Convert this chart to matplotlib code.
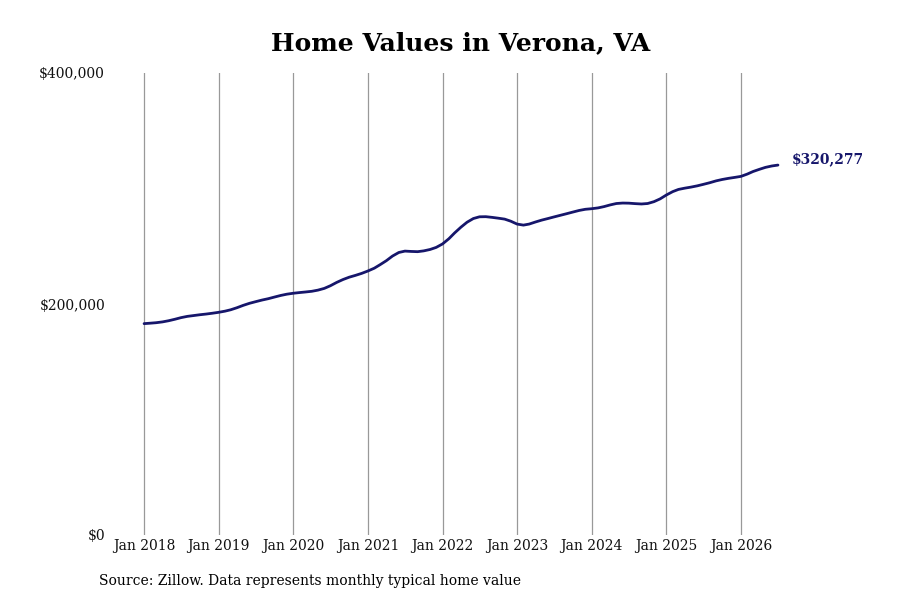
import pandas as pd
import matplotlib
matplotlib.use('Agg')
import matplotlib.pyplot as plt
from matplotlib.ticker import FuncFormatter

# Typical home value, Verona VA, monthly Jan 2018 - Jul 2026 (thousands of $)
values_2018 = [183.0, 183.4, 183.8, 184.5, 185.5, 186.8, 188.2, 189.3, 190.0, 190.7, 191.3, 192.0]
values_2019 = [192.8, 193.8, 195.0, 196.8, 198.8, 200.6, 202.0, 203.4, 204.6, 206.0, 207.4, 208.5]
values_2020 = [209.3, 209.9, 210.4, 211.0, 212.0, 213.5, 215.8, 218.7, 221.2, 223.2, 224.8, 226.5]
values_2021 = [228.6, 231.0, 234.0, 237.5, 241.5, 244.6, 245.8, 245.5, 245.3, 246.0, 247.2, 249.0]
values_2022 = [252.0, 256.5, 261.5, 266.5, 270.8, 274.0, 275.5, 275.6, 275.0, 274.3, 273.5, 271.7]
values_2023 = [269.2, 268.3, 269.2, 271.0, 272.6, 274.0, 275.4, 276.8, 278.2, 279.6, 281.0, 282.0]
values_2024 = [282.5, 283.2, 284.3, 285.8, 287.0, 287.4, 287.3, 286.9, 286.6, 287.0, 288.6, 291.0]
values_2025 = [294.4, 297.3, 299.2, 300.3, 301.2, 302.3, 303.6, 305.0, 306.6, 307.8, 308.8, 309.6]
values_2026 = [310.5, 312.5, 314.7, 316.6, 318.3, 319.5, 320.277]

values = (values_2018 + values_2019 + values_2020 + values_2021 + values_2022
          + values_2023 + values_2024 + values_2025 + values_2026)
dates = pd.date_range('2018-01-01', periods=len(values), freq='MS')
home_value = [v * 1000 for v in values]

tick_years = list(range(2018, 2027))
tick_labels = ['Jan %d' % y for y in tick_years]
last_label = '$320,277'

plt.rcParams['font.family'] = 'DejaVu Serif'

fig = plt.figure(figsize=(9, 6), dpi=100)
ax = fig.add_axes([112 / 900, 65 / 600, 668 / 900, 462 / 600])

line_color = '#16166b'
ax.plot(dates, home_value, color=line_color, linewidth=2.0, solid_capstyle='round')

ax.set_ylim(0, 400000)
ax.set_yticks([0, 200000, 400000])
ax.yaxis.set_major_formatter(FuncFormatter(lambda v, p: '${:,.0f}'.format(v)))

ticks = [pd.Timestamp('%d-01-01' % y) for y in tick_years]
ax.set_xticks(ticks)
ax.set_xticklabels(tick_labels)
ax.set_xlim(pd.Timestamp('2018-01-01') - pd.Timedelta(days=157),
            pd.Timestamp('2026-01-01') + pd.Timedelta(days=191))

ax.grid(axis='x', color='#999999', linewidth=0.9)
ax.grid(axis='y', visible=False)
for s in ax.spines.values():
    s.set_visible(False)
ax.tick_params(axis='both', length=0, labelsize=10, colors='#111111')
ax.tick_params(axis='x', pad=3)
ax.tick_params(axis='y', pad=5)

ax.annotate(last_label, xy=(dates[-1], home_value[-1]), xytext=(10, 4),
            textcoords='offset points', fontsize=10, fontweight='bold',
            color=line_color, va='center', ha='left')

fig.text(461 / 900, 1 - 43 / 600, 'Home Values in Verona, VA',
         ha='center', va='center', fontsize=18, fontweight='bold')
fig.text(99 / 900, 1 - 581 / 600, 'Source: Zillow. Data represents monthly typical home value',
         ha='left', va='center', fontsize=10)

fig.savefig('out.png', dpi=100)
